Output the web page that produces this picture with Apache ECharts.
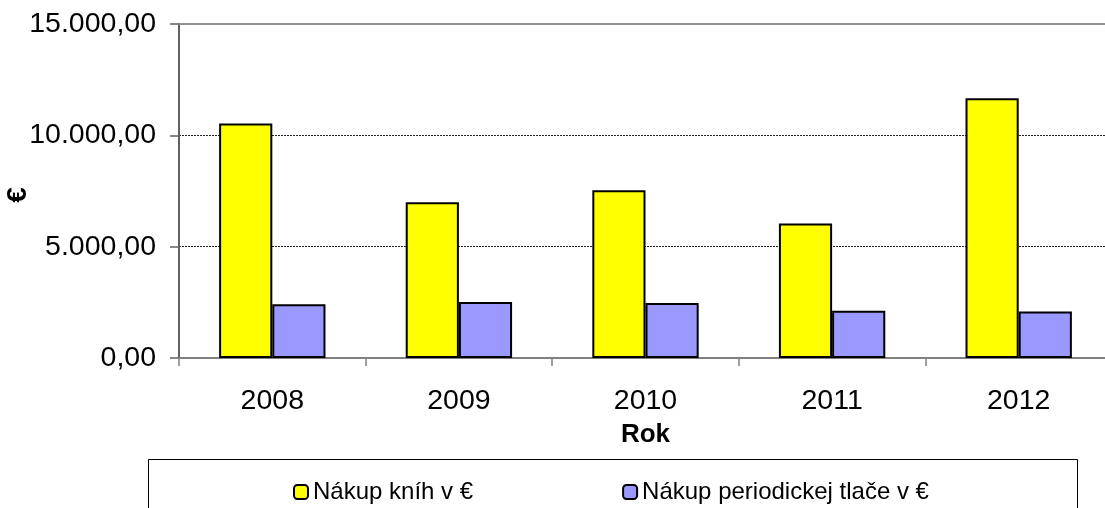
<!DOCTYPE html>
<html>
<head>
<meta charset="utf-8">
<script src="https://cdn.jsdelivr.net/npm/echarts@6/dist/echarts.min.js"></script>
<style>
html,body{margin:0;padding:0;background:#fff;}
#chart{width:1105px;height:508px;}
</style>
</head>
<body>
<div id="chart"></div>
<script>
const years = ['2008', '2009', '2010', '2011', '2012'];
const books = [10530, 6990, 7530, 6040, 11670];
const periodicals = [2410, 2510, 2470, 2120, 2090];
const seriesNames = ['Nákup kníh v €', 'Nákup periodickej tlače v €'];
const yTicks = { min: 0, max: 15000, interval: 5000 };

const FONT = '"Liberation Sans", Arial, sans-serif';
function fmt(v) {
  const parts = v.toFixed(2).split('.');
  const intPart = parts[0].replace(/\B(?=(\d{3})+(?!\d))/g, '.');
  return intPart + ',' + parts[1];
}

const chart = echarts.init(document.getElementById('chart'), null, { renderer: 'canvas' });
chart.setOption({
  backgroundColor: '#ffffff',
  animation: false,
  textStyle: { fontFamily: FONT },
  grid: { left: 179, top: 24, width: 933, height: 334, show: false, containLabel: false, outerBoundsMode: 'none' },
  legend: {
    data: seriesNames,
    left: 293,
    top: 480,
    padding: 0,
    itemWidth: 14,
    itemHeight: 14,
    itemGap: 149,
    textStyle: { fontFamily: FONT, fontSize: 24, color: '#000' }
  },
  graphic: [{
    type: 'rect',
    left: 146, top: 457,
    shape: { width: 929, height: 60 },
    style: { fill: 'none', stroke: '#000', lineWidth: 1 },
    z: -1
  }],
  xAxis: [{
    type: 'category',
    data: years,
    name: 'Rok',
    nameLocation: 'middle',
    nameGap: 64,
    nameMoveOverlap: false,
    nameTextStyle: { fontFamily: FONT, fontSize: 26, fontWeight: 'bold', color: '#000' },
    axisLine: { lineStyle: { color: '#808080', width: 2 } },
    axisTick: { show: true, length: 8, lineStyle: { color: '#808080', width: 1.5 } },
    axisLabel: { fontFamily: FONT, fontSize: 28.5, color: '#000', margin: 29 }
  }, {
    type: 'category',
    data: years,
    position: 'top',
    axisLine: { show: true, lineStyle: { color: '#909090', width: 2 } },
    axisTick: { show: false },
    axisLabel: { show: false }
  }],
  yAxis: {
    type: 'value',
    min: yTicks.min, max: yTicks.max, interval: yTicks.interval,
    name: '€',
    nameLocation: 'middle',
    nameGap: 147,
    nameMoveOverlap: false,
    nameTextStyle: { fontFamily: FONT, fontSize: 28, fontWeight: 'bold', color: '#000', padding: [0, 8, 0, 0] },
    axisLine: { show: true, lineStyle: { color: '#606060', width: 2 } },
    axisTick: { show: true, length: 9, lineStyle: { color: '#606060', width: 1.5 } },
    axisLabel: { fontFamily: FONT, fontSize: 28.5, color: '#000', margin: 23, formatter: fmt },
    splitLine: { show: true, lineStyle: { color: '#222', width: 1, type: [2, 1] } }
  },
  series: [{
    name: seriesNames[0],
    type: 'bar',
    data: books,
    barGap: '0%',
    barCategoryGap: '43%',
    itemStyle: { color: '#FFFF00', borderColor: '#000', borderWidth: 2 }
  }, {
    name: seriesNames[1],
    type: 'bar',
    data: periodicals,
    itemStyle: { color: '#9999FF', borderColor: '#000', borderWidth: 2 }
  }]
});
</script>
</body>
</html>
